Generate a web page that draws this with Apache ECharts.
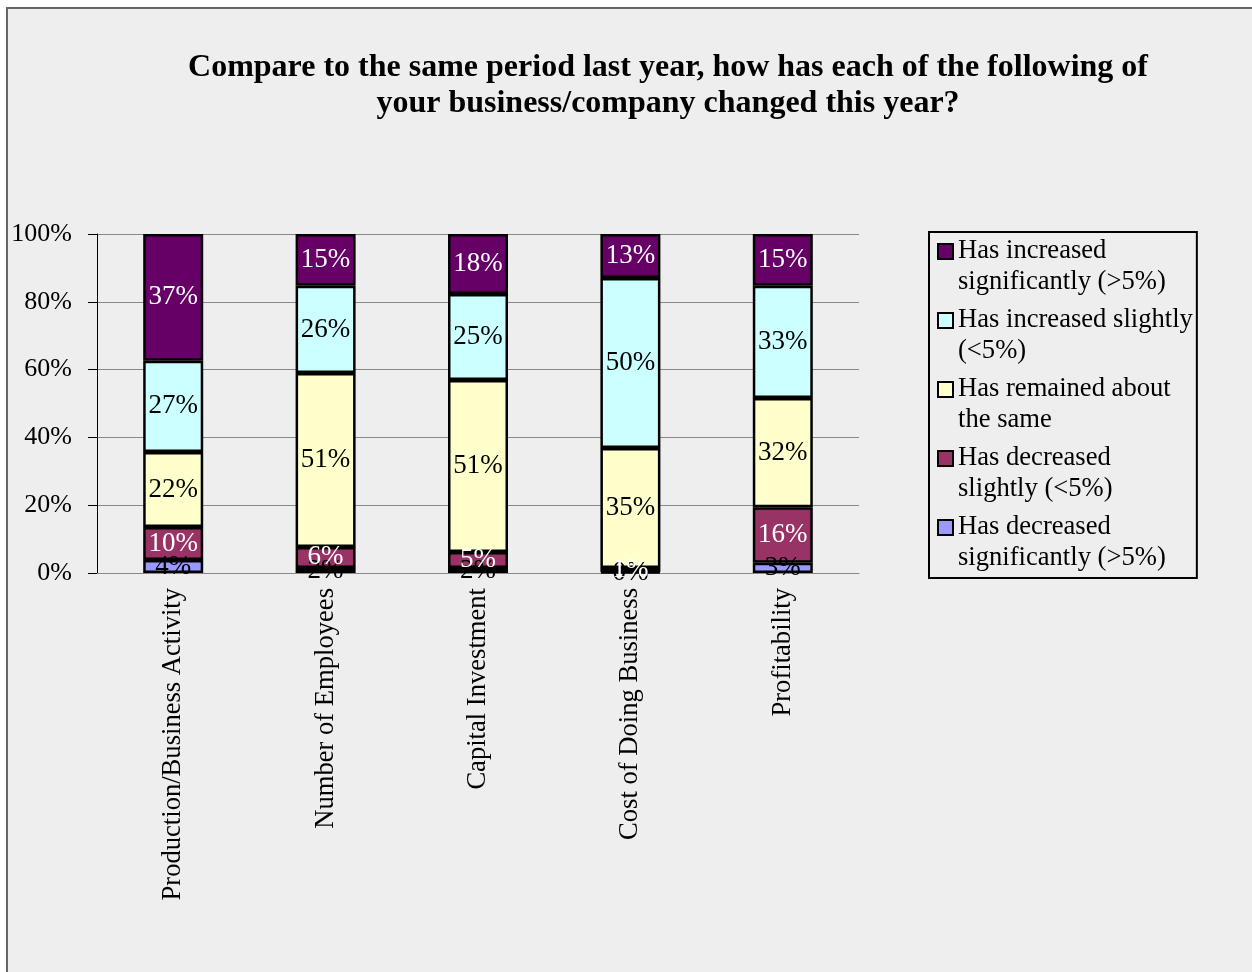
<!DOCTYPE html>
<html>
<head>
<meta charset="utf-8">
<script src="https://cdn.jsdelivr.net/npm/echarts@6/dist/echarts.min.js"></script>
<style>
  html, body { margin: 0; padding: 0; background: #ffffff; }
  #chart { width: 1252px; height: 972px; }
</style>
</head>
<body>
<div id="chart"></div>
<script>
// Survey categories (x axis)
const categories = [
  'Production/Business Activity',
  'Number of Employees',
  'Capital Investment',
  'Cost of Doing Business',
  'Profitability'
];

// Share of respondents per answer (percent), stacked bottom to top
const decreasedSignificantly = [3.8, 1.5, 1.5, 0.3, 3.0];
const decreasedSlightly      = [9.8, 6.2, 4.7, 1.2, 16.4];
const remainedSame           = [22.1, 51.3, 50.7, 35.4, 32.2];
const increasedSlightly      = [26.9, 25.7, 25.4, 50.1, 33.1];
const increasedSignificantly = [37.4, 15.3, 17.7, 13.0, 15.3];

const seriesNames = [
  'Has decreased significantly (>5%)',
  'Has decreased slightly (<5%)',
  'Has remained about the same',
  'Has increased slightly (<5%)',
  'Has increased significantly (>5%)'
];

// Legend text broken over two lines
const legendText = {
  'Has increased significantly (>5%)': 'Has increased\nsignificantly (>5%)',
  'Has increased slightly (<5%)': 'Has increased slightly\n(<5%)',
  'Has remained about the same': 'Has remained about\nthe same',
  'Has decreased slightly (<5%)': 'Has decreased\nslightly (<5%)',
  'Has decreased significantly (>5%)': 'Has decreased\nsignificantly (>5%)'
};

const yTicks = [0, 20, 40, 60, 80, 100];

const titleText = 'Compare to the same period last year, how has each of the following of\nyour business/company changed this year?';

const seriesValues = [decreasedSignificantly, decreasedSlightly, remainedSame, increasedSlightly, increasedSignificantly];
const seriesColors = ['#9999ff', '#993366', '#ffffcc', '#ccffff', '#660066'];
const labelColors  = ['#000000', '#ffffff', '#000000', '#000000', '#ffffff'];

const FONT = '"Liberation Serif", "Times New Roman", serif';

const chart = echarts.init(document.getElementById('chart'), null, { renderer: 'canvas' });

const series = seriesNames.map((name, i) => ({
  name: name,
  type: 'bar',
  stack: 'total',
  barWidth: 60,
  data: seriesValues[i],
  itemStyle: { color: seriesColors[i], borderColor: '#000000', borderWidth: 2.5 },
  label: {
    show: true,
    position: 'inside',
    color: labelColors[i],
    fontFamily: FONT,
    fontSize: 27,
    formatter: p => Math.round(p.value) + '%'
  },
  emphasis: { disabled: true },
  animation: false
}));

chart.setOption({
  animation: false,
  backgroundColor: '#ffffff',
  graphic: [
    {
      type: 'rect',
      z: -10,
      silent: true,
      shape: { x: 7, y: 8, width: 1400, height: 1100 },
      style: { fill: '#eeeeee', stroke: '#666666', lineWidth: 2 }
    },
    {
      type: 'text',
      z: 10,
      silent: true,
      x: 668,
      y: 50,
      style: {
        text: titleText,
        align: 'center',
        verticalAlign: 'top',
        fontFamily: FONT,
        fontSize: 32,
        fontWeight: 'bold',
        lineHeight: 36,
        fill: '#000000'
      }
    }
  ],
  grid: { left: 97, top: 234, right: 393, bottom: 399, containLabel: false },
  legend: {
    orient: 'vertical',
    left: 929,
    top: 232,
    padding: [3, 4, 3, 8],
    itemGap: 5,
    itemWidth: 15,
    itemHeight: 62,
    icon: 'path://M0,8L15,8L15,23L0,23Z M7,0L7,0 M7,62L7,62',
    borderColor: '#000000',
    borderWidth: 2,
    data: seriesNames.slice().reverse(),
    formatter: name => legendText[name],
    selectedMode: false,
    itemStyle: { borderColor: '#000000', borderWidth: 2 },
    textStyle: { fontFamily: FONT, fontSize: 26.6, lineHeight: 31, color: '#000000' }
  },
  xAxis: {
    type: 'category',
    data: categories,
    axisLine: { show: true, lineStyle: { color: '#888888', width: 1 } },
    axisTick: { show: false },
    axisLabel: {
      rotate: 90,
      margin: 15,
      interval: 0,
      color: '#000000',
      fontFamily: FONT,
      fontSize: 26.6
    }
  },
  yAxis: {
    type: 'value',
    min: 0,
    max: 100,
    interval: 20,
    axisLine: { show: true, lineStyle: { color: '#000000', width: 1 } },
    axisTick: { show: true, length: 9, lineStyle: { color: '#000000' } },
    splitLine: { show: true, lineStyle: { color: '#888888', width: 1 } },
    axisLabel: {
      margin: 25,
      color: '#000000',
      fontFamily: FONT,
      fontSize: 26,
      customValues: yTicks,
      formatter: v => v + '%'
    }
  },
  series: series
});
</script>
</body>
</html>
